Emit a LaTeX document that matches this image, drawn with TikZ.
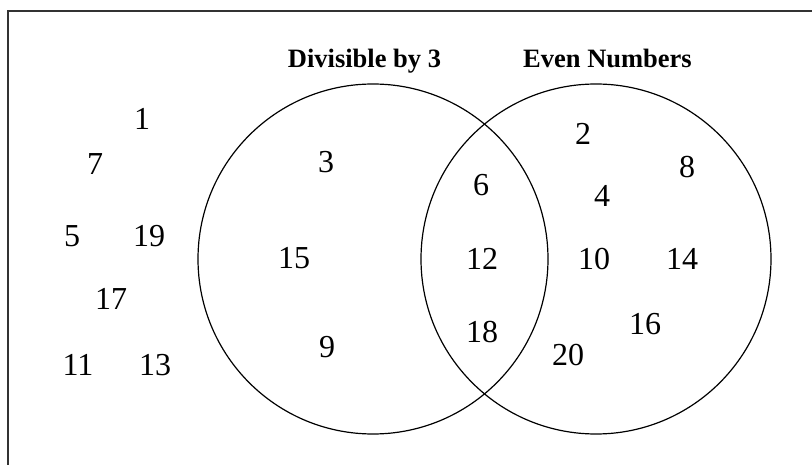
\documentclass[tikz,border=0pt]{standalone}
\usepackage{fontspec}
\setmainfont{Liberation Serif}
\begin{document}
\begin{tikzpicture}[x=1pt,y=-1pt,
  num/.style={inner sep=0pt, font=\fontsize{32}{32}\selectfont},
  head/.style={inner sep=0pt, anchor=base, font=\fontsize{26.5}{26.5}\selectfont\bfseries},
  setcircle/.style={circle, draw, line width=1.2pt, minimum size=350pt, inner sep=0pt}]
\useasboundingbox (0,0) rectangle (812,465);
% frame (top and left edges)
\coordinate (fl) at (8,465);
\coordinate (fc) at (8,11);
\coordinate (fr) at (812,11);
\draw[line width=1.6pt, black!80] (fl) -- (fc) -- (fr);
% circles
\node[setcircle] (A) at (373,259) {};
\node[setcircle] (B) at (596,259) {};
% headings
\node[head] (hA) at (364.5,68) {Divisible by 3};
\node[head] (hB) at (607.5,68) {Even Numbers};
% outside
\node[num] (n1) at (142,119) {1};
\node[num] (n7) at (95,164) {7};
\node[num] (n5) at (72,236) {5};
\node[num] (n19) at (149,236) {19};
\node[num] (n17) at (111,299) {17};
\node[num] (n11) at (78,365) {11};
\node[num] (n13) at (155,365) {13};
% divisible by 3 only
\node[num] (n3) at (326,162) {3};
\node[num] (n15) at (294,258) {15};
\node[num] (n9) at (327,347) {9};
% intersection
\node[num] (n6) at (481,185) {6};
\node[num] (n12) at (482,259) {12};
\node[num] (n18) at (482,332) {18};
% even only
\node[num] (n2) at (583,134) {2};
\node[num] (n8) at (687,167) {8};
\node[num] (n4) at (602,196) {4};
\node[num] (n10) at (594,259) {10};
\node[num] (n14) at (682,259) {14};
\node[num] (n16) at (645,324) {16};
\node[num] (n20) at (568,355) {20};
\end{tikzpicture}
\end{document}
